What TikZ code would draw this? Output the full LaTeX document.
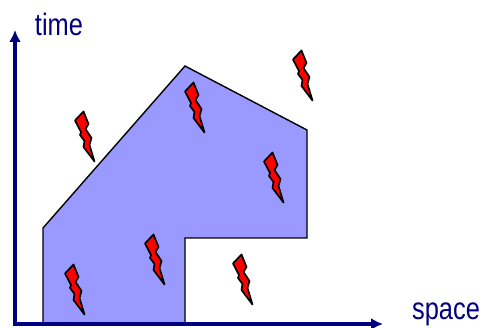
\documentclass[tikz,border=0pt]{standalone}
\usepackage{fontspec}
\setmainfont{Liberation Sans}
\usepackage{tikz}
\usetikzlibrary{arrows.meta,positioning}
\definecolor{axisblue}{HTML}{000080}
\definecolor{regionblue}{HTML}{9999FF}
\definecolor{boltred}{HTML}{FF0000}

\begin{document}
\begin{tikzpicture}[x=1pt, y=-1pt]
    \tikzstyle{region} = [draw=black, fill=regionblue, line width=1.4pt, line join=miter]
    \tikzstyle{axis} = [draw=axisblue, line width=3.4pt, -{Latex[length=12pt,width=12pt]}]
    \tikzstyle{label} = [text=axisblue, font=\fontsize{31}{31}\selectfont, inner sep=0pt, xscale=0.82, transform shape]
    \tikzstyle{boltshape} = [draw=black, fill=boltred, line width=1.7pt, line join=round]
    \tikzset{bolt/.pic={
        \path [boltshape] (-0.5,-0.5) -- (-5.5,-17) -- (-3.5,-24) -- (-9.5,-33) -- (-6.5,-38) -- (-11.5,-50.5)
            -- (-20,-41.5) -- (-14,-30) -- (-15,-27) -- (-10.5,-21) -- (-11.5,-15) -- cycle;
    }}

    \useasboundingbox (0,0) rectangle (483,328);

    \path [region] (43,324) -- (43,228) -- (185,66) -- (307,130) -- (307,238) -- (185,238) -- (185,324) -- cycle;

    \coordinate (origin) at (15,326);
    \coordinate (timeend) at (15,30);
    \coordinate (corner) at (14,324);
    \coordinate (spaceend) at (383,324);
    \path [axis] (origin) -- (timeend);
    \path [axis] (corner) -- (spaceend);

    \node [label] (time) at (59,24) {time};
    \node [label] (space) at (446,314) {space};

    \pic at (313,101) {bolt};
    \pic at (95,162) {bolt};
    \pic at (205,133) {bolt};
    \pic at (284,203) {bolt};
    \pic at (85,315) {bolt};
    \pic at (165,285) {bolt};
    \pic at (253,305) {bolt};
\end{tikzpicture}
\end{document}
